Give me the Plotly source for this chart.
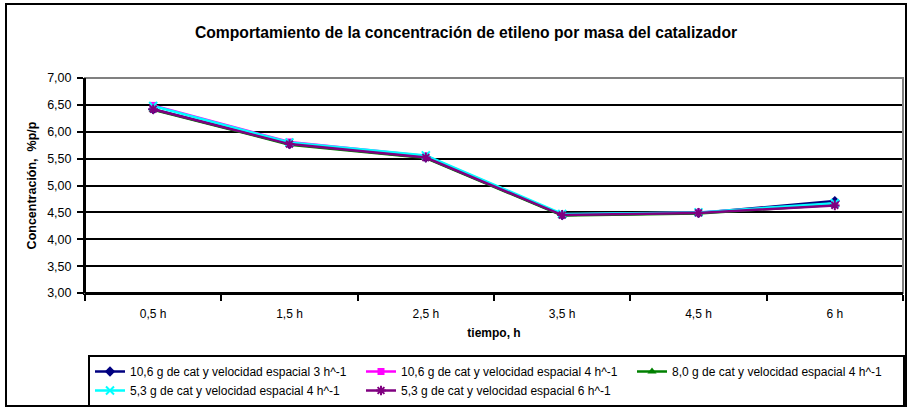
import plotly.graph_objects as go

categorias = ["0,5 h", "1,5 h", "2,5 h", "3,5 h", "4,5 h", "6 h"]
nombres = [
    "10,6 g de cat y velocidad espacial 3 h^-1",
    "10,6 g de cat y velocidad espacial 4 h^-1",
    "8,0 g de cat y velocidad espacial 4 h^-1",
    "5,3 g de cat y velocidad espacial 4 h^-1",
    "5,3 g de cat y velocidad espacial 6 h^-1",
]
serie_1 = [6.42, 5.77, 5.52, 4.45, 4.49, 4.71]
serie_2 = [6.49, 5.81, 5.55, 4.46, 4.50, 4.65]
serie_3 = [6.41, 5.76, 5.51, 4.44, 4.48, 4.64]
serie_4 = [6.48, 5.80, 5.56, 4.47, 4.50, 4.67]
serie_5 = [6.42, 5.77, 5.52, 4.45, 4.49, 4.63]
series = [serie_1, serie_2, serie_3, serie_4, serie_5]
colores = ["#000080", "#FF00FF", "#008000", "#00FFFF", "#800080"]
simbolos = ["diamond", "square", "triangle-up", "x-thin-open", "asterisk-open"]
tam = [8, 7, 8, 8, 8]

W, H = 908, 408
ML, MR, MT, MB = 85, 5, 78, 115
PW, PH = W - ML - MR, H - MT - MB
FONT = "Liberation Sans, Arial, sans-serif"

fig = go.Figure()
for nombre, vals, col, sym, s in zip(nombres, series, colores, simbolos, tam):
    marker = dict(symbol=sym, size=s, color=col, line=dict(color=col, width=2 if "open" in sym else 0))
    fig.add_trace(go.Scatter(x=categorias, y=vals, name=nombre, mode="lines+markers",
                             line=dict(color=col, width=2.5), marker=marker))

def px_x(p):
    return (p - ML) / PW

def px_y(p):
    return (H - MB - p) / PH

fig.update_layout(
    width=W, height=H,
    margin=dict(l=ML, r=MR, t=MT, b=MB, autoexpand=False),
    paper_bgcolor="white", plot_bgcolor="white",
    separators=",.",
    font=dict(family=FONT, size=12, color="black"),
    title=dict(text="<b>Comportamiento de la concentración de etileno por masa del catalizador</b>",
               xref="container", x=466 / W, xanchor="center", y=1 - 33 / H, yanchor="middle",
               font=dict(size=15.7, color="black")),
    xaxis=dict(type="category", showgrid=False, showline=True, linecolor="black", linewidth=2,
               ticks="outside", tickson="boundaries", ticklen=6, tickwidth=2, tickcolor="black",
               tickfont=dict(size=12), ticklabelstandoff=9,
               title=dict(text="<b>tiempo, h</b>", font=dict(size=12), standoff=8),
               range=[-0.5, 5.5]),
    yaxis=dict(range=[3, 7], dtick=0.5, tickformat=".2f", showgrid=True, gridcolor="black",
               gridwidth=2, showline=True, linecolor="black", linewidth=2, zeroline=False,
               ticks="outside", ticklen=6, tickwidth=2, tickcolor="black",
               tickfont=dict(size=12.5), ticklabelstandoff=3,
               title=dict(text="<b>Concentración,  %p/p</b>", font=dict(size=12.5), standoff=8)),
    legend=dict(orientation="h", x=px_x(88), xanchor="left", y=px_y(355), yanchor="top",
                bordercolor="black", borderwidth=2, bgcolor="white",
                font=dict(size=12), entrywidth=226, entrywidthmode="pixels",
                tracegroupgap=0),
    showlegend=True,
)

# plot area border (gray) and outer chart border
fig.add_shape(type="rect", xref="paper", yref="paper", x0=0, x1=1, y0=0, y1=1,
              line=dict(color="#808080", width=2), layer="above")
fig.add_shape(type="line", xref="paper", yref="paper", x0=0, x1=0, y0=0, y1=1,
              line=dict(color="black", width=2), layer="above")
fig.add_shape(type="line", xref="paper", yref="paper", x0=0, x1=1, y0=0, y1=0,
              line=dict(color="black", width=2), layer="above")
fig.add_shape(type="rect", xref="paper", yref="paper", x0=px_x(6), x1=px_x(906),
              y0=px_y(406), y1=px_y(4), line=dict(color="black", width=2), layer="below")

fig.write_html("out.html")
